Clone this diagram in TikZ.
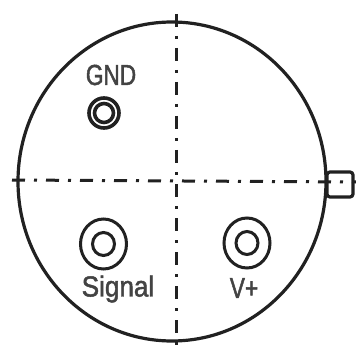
\documentclass[tikz,border=0pt]{standalone}
\usepackage{fontspec}
\setmainfont[FakeStretch=0.78,FakeBold=1.6]{Liberation Sans}
\newfontfamily\widerlab[FakeStretch=0.9,FakeBold=1.6]{Liberation Sans}
\definecolor{ink}{gray}{0.13}
\tikzset{
  axisline/.style={draw=ink,line width=3pt,dash pattern=on 13pt off 9pt on 3pt off 9pt},
  outline/.style={draw=ink,line width=3.2pt},
  ring/.style={draw=ink,line width=3pt},
  lab/.style={text=ink!85!white,font=\fontsize{29}{29}\selectfont,inner sep=0pt}
}
\begin{document}
\begin{tikzpicture}[x=1pt,y=-1pt]
\useasboundingbox[fill=white] (0,0) rectangle (356,350);
\draw[outline] (172,181.5) ellipse [x radius=154,y radius=159.5];
\draw[axisline] (176,14) -- (176,346);
\draw[axisline] (12,180) -- (356,182);
\draw[outline,rounded corners=3pt] (327,172) rectangle (353,197);
\draw[ring,line width=3.6pt] (104,113) circle [radius=15];
\draw[ring,line width=3.6pt] (104,113) circle [radius=9.5];
\draw[ring] (103.5,244) ellipse [x radius=23,y radius=25];
\draw[ring] (103.5,244) ellipse [x radius=11,y radius=11.5];
\draw[ring] (247,243) ellipse [x radius=23,y radius=25];
\draw[ring] (247,243) ellipse [x radius=11,y radius=11.5];
\node[lab] (gnd) at (111,75) {GND};
\node[lab] (signal) at (118,289) {\widerlab Signal};
\node[lab] (vplus) at (244,288) {V+};
\end{tikzpicture}
\end{document}
